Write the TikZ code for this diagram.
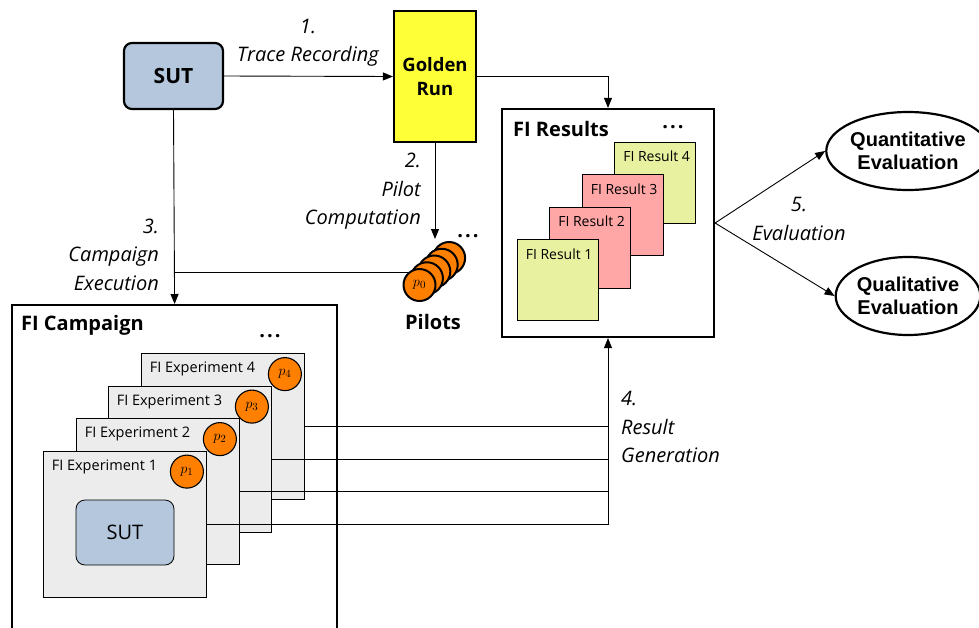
\documentclass[tikz,border=0pt]{standalone}
\usepackage{fontspec}
\setmainfont{Open Sans}
\newfontfamily\ellipsefont{Liberation Sans}
\usetikzlibrary{arrows.meta,shapes.geometric}

\definecolor{sutblue}{HTML}{B4C7DC}
\definecolor{goldyellow}{HTML}{FFFF38}
\definecolor{resgreen}{HTML}{E8F1A0}
\definecolor{respink}{HTML}{FFA6A6}
\definecolor{expgray}{HTML}{ECECEC}
\definecolor{pilotorange}{HTML}{FF8000}

\begin{document}
\begin{tikzpicture}[x=1pt,y=-1pt,
  conn/.style={line width=0.9pt},
  arr/.style={conn,-{Triangle[length=10pt,width=8pt]}},
  bigbox/.style={draw,line width=2.2pt,inner sep=0pt},
  boldtext/.style={font=\fontsize{20}{25}\selectfont\bfseries},
  steplabel/.style={font=\fontsize{20}{28.5}\selectfont\itshape,inner sep=0pt},
  cardtext/.style={font=\fontsize{14}{16}\selectfont,inner sep=0pt},
  rescard/.style={draw,line width=0.8pt,minimum width=81pt,minimum height=81pt,inner sep=0pt},
  expcard/.style={draw,line width=0.8pt,fill=expgray,minimum width=163pt,minimum height=146pt,inner sep=0pt},
  pilot/.style={circle,draw,line width=1.1pt,fill=pilotorange,minimum size=33pt,inner sep=0pt,font=\fontsize{15}{16}\selectfont},
  stackpilot/.style={pilot,line width=2pt,minimum size=32pt},
  evalnode/.style={ellipse,draw,line width=2.2pt,minimum width=137pt,minimum height=78pt,inner sep=0pt,align=center,
    font=\fontsize{20}{23}\selectfont\ellipsefont\bfseries},
  dots/.style={font=\fontsize{20}{20}\selectfont\bfseries,inner sep=0pt}
]
\useasboundingbox (0,0) rectangle (979,627);

% ---- top row: system under test and golden run
\node[bigbox,rounded corners=8pt,fill=sutblue,minimum width=99pt,minimum height=66pt,
      font=\fontsize{21}{25}\selectfont\bfseries] (sut) at (173.5,76) {SUT};
\node[bigbox,fill=goldyellow,minimum width=82pt,minimum height=131pt,align=center,
      font=\fontsize{18.5}{24}\selectfont\bfseries] (golden) at (435,76.5) {Golden\\Run};

% ---- FI results container with stacked result cards
\node[bigbox,minimum width=212pt,minimum height=228pt] (results) at (608,223) {};
\node[boldtext,anchor=west,inner sep=0pt] (reslabel) at (513,129) {FI Results};
\node[dots] (resdots) at (673,127) {.\kern2pt.\kern2pt.};
\foreach \i/\x/\y/\c in {4/655/182.5/resgreen, 3/622.5/215/respink, 2/590/247.5/respink, 1/557.5/280/resgreen} {
  \node[rescard,fill=\c] (res\i) at (\x,\y) {};
  \node[cardtext,anchor=west] (res\i label) at ([xshift=9pt,yshift=-15pt]res\i.north west) {FI Result \i};
}

% ---- evaluation ellipses
\node[evalnode] (quant) at (908,151) {Quantitative\\Evaluation};
\node[evalnode] (qual) at (908,296) {Qualitative\\Evaluation};

% ---- FI campaign container (runs past the lower edge)
\node[bigbox,minimum width=325pt,minimum height=360pt,anchor=north west] (campaign) at (11,304) {};
\node[boldtext,anchor=west,inner sep=0pt] (camplabel) at (21,325) {FI Campaign};
\node[dots] (campdots) at (270,336) {.\kern2pt.\kern2pt.};
\foreach \i/\x/\y in {4/222.5/426.5, 3/189.5/459, 2/157.5/491.5, 1/124.5/524} {
  \node[expcard] (exp\i) at (\x,\y) {};
  \node[cardtext,font=\fontsize{14.5}{16}\selectfont,anchor=west] (exp\i label) at ([xshift=9pt,yshift=-16pt]exp\i.north west) {FI Experiment \i};
  \node[pilot] (p\i) at ([xshift=-19.5pt,yshift=-21pt]exp\i.north east) {$p_{\i}$};
}
\node[draw,line width=0.8pt,rounded corners=9pt,fill=sutblue,minimum width=98pt,minimum height=65pt,
      font=\fontsize{20}{24}\selectfont] (innersut) at (125,532.5) {SUT};

% ---- connectors
\draw[arr] (sut.east) -- (golden.west);
\draw[arr] (golden.east) -| (results.north);
\draw[arr] (sut.south) -- (campaign.north);
\coordinate (pilotjoin) at (173.5,272);
\coordinate (pilottip) at (435,239);
\draw[arr] (golden.south) -- (pilottip);
\draw[conn] (pilotjoin) -- (pilotjoin -| 419,0);

% ---- pilot stack
\foreach \k in {4,3,2,1} {
  \node[stackpilot] (pilot\k) at ({419.5+7.4*\k},{285-6.75*\k}) {};
}
\node[stackpilot] (pilot0) at (419.5,285) {$p_0$};
\node[dots] (pilotdots) at (468,236) {.\kern2pt.\kern2pt.};
\node[boldtext,inner sep=0pt] (pilotlabel) at (433,322) {Pilots};

% ---- result generation lines
\draw[arr] (exp1.east) -| (results.south);
\draw[conn] (exp2.east) -- (exp2.east -| results.south);
\draw[conn] (exp3.east) -- (exp3.east -| results.south);
\draw[conn] (exp4.east) -- (exp4.east -| results.south);

% ---- evaluation arrows
\draw[arr] (results.east) -- (quant.west);
\draw[arr] (results.east) -- (qual.west);

% ---- step labels
\node[steplabel,align=center] (l1) at (308,43) {1.\\Trace Recording};
\node[steplabel,align=right,anchor=east] (l2) at (421,191.5) {2.\\Pilot\\Computation};
\node[steplabel,align=right,anchor=east] (l3) at (159,254.5) {3.\\Campaign\\Execution};
\node[steplabel,align=left,anchor=west] (l4) at (621,427) {4.\\Result\\Generation};
\node[steplabel,align=center] (l5) at (799,219) {5.\\Evaluation};
\end{tikzpicture}
\end{document}
